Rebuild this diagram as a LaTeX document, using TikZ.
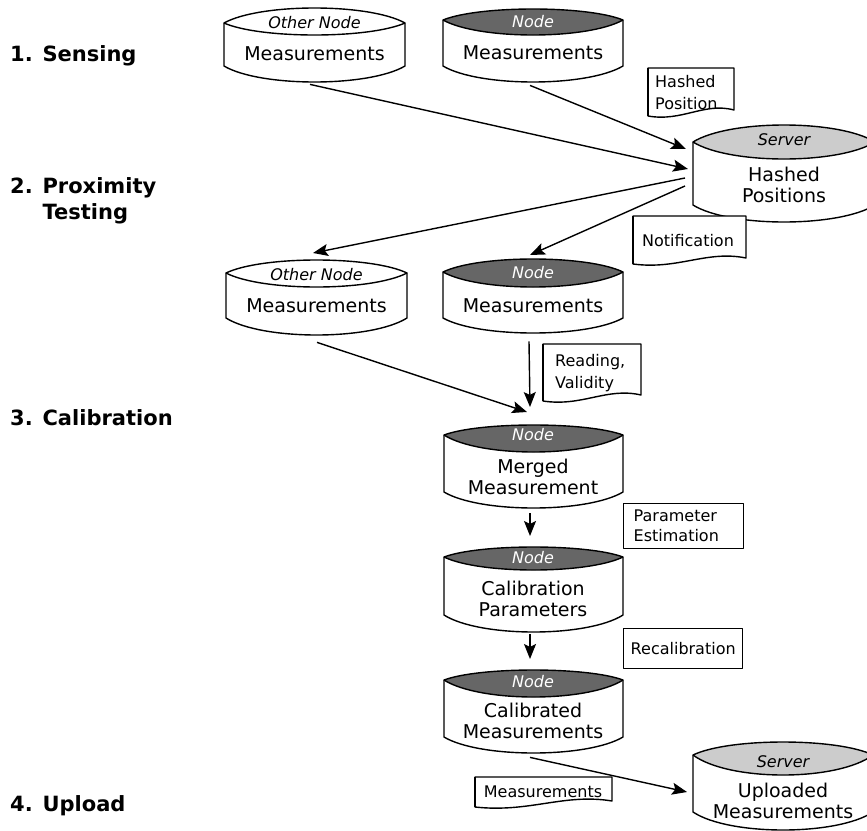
\documentclass[tikz,border=0pt]{standalone}
\usepackage{fontspec}
\setmainfont{DejaVu Sans}
\usetikzlibrary{arrows.meta,calc}

\definecolor{nodegray}{HTML}{666666}
\definecolor{servergray}{HTML}{CCCCCC}

\tikzset{
  outline/.style={line width=1.4pt, line join=round},
  conn/.style={line width=1.4pt, -{Stealth[length=15pt,width=12pt,inset=3pt]}},
  stage/.style={font=\fontsize{21}{26}\selectfont\bfseries, align=left, inner sep=0pt, anchor=base west},
  store/.style={font=\fontsize{19}{21}\selectfont, align=center, inner sep=0pt, anchor=base},
  tag/.style={font=\fontsize{16}{18}\selectfont\itshape, inner sep=0pt, anchor=base},
  nodetag/.style={tag, text=white},
  note/.style={font=\fontsize{16}{22}\selectfont, align=left, inner sep=0pt, anchor=base west},
  box/.style={draw, outline, fill=white, font=\fontsize{16}{20}\selectfont, inner ysep=0pt},
}

% Data store: lens-shaped lid, straight sides, curved bottom.
% #1 name, #2 left, #3 right, #4 lid top, #5 lid corners, #6 lid bottom,
% #7 bottom corners, #8 bottom, #9 lid colour
\newcommand\dbshape[9]{%
  \pgfmathsetmacro\dbw{#3-#2}%
  \pgfmathsetmacro\dbh{#8-#4}%
  \pgfmathsetmacro\dbca{#2+0.2*(#3-#2)}%
  \pgfmathsetmacro\dbcb{#3-0.2*(#3-#2)}%
  \pgfmathsetmacro\dbup{#5+4/3*(#4-#5)}%
  \pgfmathsetmacro\dblo{#5+4/3*(#6-#5)}%
  \pgfmathsetmacro\dbbo{#7+4/3*(#8-#7)}%
  \fill[white] (#2,#5) .. controls (\dbca,\dbup) and (\dbcb,\dbup) .. (#3,#5)
    -- (#3,#7) .. controls (\dbcb,\dbbo) and (\dbca,\dbbo) .. (#2,#7) -- cycle;
  \fill[#9] (#2,#5) .. controls (\dbca,\dbup) and (\dbcb,\dbup) .. (#3,#5)
    .. controls (\dbcb,\dblo) and (\dbca,\dblo) .. (#2,#5) -- cycle;
  \draw[outline] (#2,#5) .. controls (\dbca,\dbup) and (\dbcb,\dbup) .. (#3,#5)
    -- (#3,#7) .. controls (\dbcb,\dbbo) and (\dbca,\dbbo) .. (#2,#7) -- cycle;
  \draw[outline] (#2,#5) .. controls (\dbca,\dblo) and (\dbcb,\dblo) .. (#3,#5);
  \node[inner sep=0pt, minimum width=\dbw pt, minimum height=\dbh pt, anchor=north west] (#1) at (#2,#4) {};
}

% Document sheet with a wavy lower edge.
% #1 name, #2 left, #3 right, #4 top, #5 lower left corner
\newcommand\docshape[5]{%
  \pgfmathsetmacro\dcw{#3-#2}%
  \pgfmathsetmacro\dch{#5-#4}%
  \pgfmathsetmacro\dcr{#5-6}%
  \pgfmathsetmacro\dcca{#3-0.35*(#3-#2)}%
  \pgfmathsetmacro\dccb{#2+0.4*(#3-#2)}%
  \pgfmathsetmacro\dcya{#5-14}%
  \pgfmathsetmacro\dcyb{#5+6}%
  \draw[outline, fill=white] (#2,#4) -- (#3,#4) -- (#3,\dcr)
    .. controls (\dcca,\dcya) and (\dccb,\dcyb) .. (#2,#5) -- cycle;
  \draw[line width=2.2pt] (#2,#4) -- (#2,#5);
  \node[inner sep=0pt, minimum width=\dcw pt, minimum height=\dch pt, anchor=north west] (#1) at (#2,#4) {};
}

\begin{document}
\begin{tikzpicture}[x=1pt, y=-1pt]
\clip (0,0) rectangle (867,830);
\fill[white] (0,0) rectangle (867,830);

% stage labels (multi-line nodes sit on their last baseline)
\node[stage] (s1) at (10,61) {1. Sensing};
\node[stage] (s2) at (10,219) {2. Proximity\\\phantom{2. }Testing};
\node[stage] (s3) at (10,425) {3. Calibration};
\node[stage] (s4) at (10,811) {4. Upload};

% 1. sensing
\dbshape{oA}{224}{405}{8}{23}{35}{66}{82}{white}
\node[tag] (oAt) at (314.5,28) {Other Node};
\node[store] (oAm) at (314.5,60) {Measurements};

\dbshape{nA}{443}{623}{9}{20}{35}{66}{82}{nodegray}
\node[nodetag] (nAt) at (533,27) {Node};
\node[store] (nAm) at (533,59) {Measurements};

\docshape{hp}{648}{734}{68}{116}
\node[note] (hpt) at (655,109) {Hashed\\Position};

% 2. proximity testing
\dbshape{srvA}{693}{875}{125}{142}{159}{205}{222}{servergray}
\node[tag] (srvAt) at (784,145) {Server};
\node[store] (srvAm) at (784,202) {Hashed\\Positions};

\docshape{nt}{633}{746}{216}{264}
\node[font=\fontsize{16}{20}\selectfont, inner sep=0pt, anchor=base] (ntt) at (688,246) {Notification};

\dbshape{oB}{226}{407}{260}{273}{287}{318}{335}{white}
\node[tag] (oBt) at (316.5,280) {Other Node};
\node[store] (oBm) at (316.5,312) {Measurements};

\dbshape{nB}{443}{623}{259}{272}{287}{318}{333}{nodegray}
\node[nodetag] (nBt) at (533,278) {Node};
\node[store] (nBm) at (533,312) {Measurements};

\docshape{rv}{543}{641}{344}{401}
\node[note] (rvt) at (555,388) {Reading,\\Validity};

% 3. calibration
\dbshape{mg}{444}{623}{425}{435}{452}{492}{508}{nodegray}
\node[nodetag] (mgt) at (533,440) {Node};
\node[store] (mgm) at (533,494) {Merged\\Measurement};

\node[box, anchor=north west, minimum height=45pt, text width=100pt, inner xsep=10pt, align=left] (pe) at (623,503) {Parameter\\Estimation};

\dbshape{cp}{444}{623}{547}{557}{570}{615}{632}{nodegray}
\node[nodetag] (cpt) at (533,563) {Node};
\node[store] (cpm) at (533,616) {Calibration\\Parameters};

\node[box, anchor=north west, minimum height=40pt, minimum width=119pt] (rc) at (623,628) {Recalibration};

\dbshape{cd}{444}{623}{670}{680}{697}{737}{753}{nodegray}
\node[nodetag] (cdt) at (533,687) {Node};
\node[store] (cdm) at (533,738) {Calibrated\\Measurements};

% 4. upload
\docshape{ms}{475}{612}{777}{807}
\node[font=\fontsize{16}{20}\selectfont, inner sep=0pt, anchor=base] (mst) at (543,797) {Measurements};

\dbshape{srvB}{693}{873}{742}{755}{775}{812}{830}{servergray}
\node[tag] (srvBt) at (783,767) {Server};
\node[store] (srvBm) at (783,818) {Uploaded\\Measurements};

% connectors
\draw[conn] ($(oA.south west)+(86,2)$) -- ($(srvA.north west)+(-5,44)$);
\draw[conn] ($(nA.south west)+(87,3)$) -- ($(srvA.north west)+(-7,24)$);
\draw[conn] ($(srvA.north west)+(-8,53)$) -- ($(oB.north west)+(87,-7)$);
\draw[conn] ($(srvA.north west)+(-8,61)$) -- ($(nB.north west)+(87,-4)$);
\draw[conn] ($(oB.south west)+(91,7)$) -- ($(mg.north west)+(83,-13)$);
\draw[conn] ($(nB.south west)+(86,8)$) -- ($(mg.north west)+(86,-18)$);
\draw[conn] ($(mg.south west)+(86,5)$) -- ($(cp.north west)+(86,-11)$);
\draw[conn] ($(cp.south west)+(86,2)$) -- ($(cd.north west)+(86,-11)$);
\draw[conn] ($(cd.south west)+(86,4)$) -- ($(srvB.north west)+(-6,50)$);
\end{tikzpicture}
\end{document}
